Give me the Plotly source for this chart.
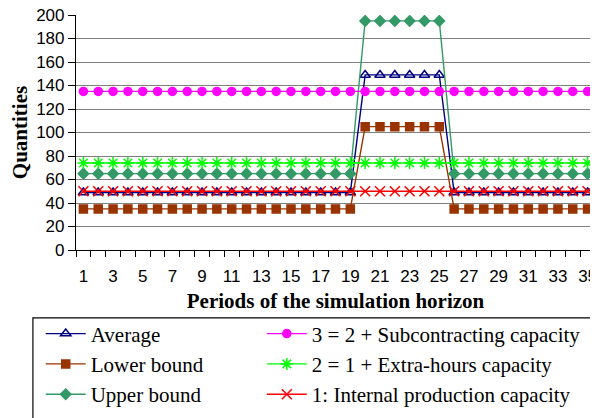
import plotly.graph_objects as go

periods = list(range(1, 36))
average = [49] * 19 + [149] * 6 + [49] * 10
lower_bound = [35] * 19 + [105] * 6 + [35] * 10
upper_bound = [65] * 19 + [195] * 6 + [65] * 10
cap3_subcontracting = [135] * 35
cap2_extra_hours = [74] * 35
cap1_internal = [50] * 35

x_tick_labels = [str(i) for i in range(1, 36, 2)]

SERIF = "Liberation Serif, Times New Roman, serif"
SANS = "Liberation Sans, Arial, sans-serif"

series = [
    ("Average", average, "#000080", "triangle-up-open", 9, "legend"),
    ("Lower bound", lower_bound, "#993300", "square", 8, "legend"),
    ("Upper bound", upper_bound, "#339966", "diamond", 8, "legend"),
    ("3 = 2 + Subcontracting capacity", cap3_subcontracting, "#FF00FF", "circle", 8, "legend2"),
    ("2 = 1 + Extra-hours capacity", cap2_extra_hours, "#00FF00", "asterisk-open", 10, "legend2"),
    ("1: Internal production capacity", cap1_internal, "#FF0000", "x-thin-open", 10, "legend2"),
]

fig = go.Figure()
for i, (name, vals, color, sym, size, leg) in enumerate(series):
    fig.add_trace(go.Scatter(
        x=periods, y=vals, name=name, mode="lines+markers",
        legend=leg, legendgroup=f"g{i}",
        line=dict(color=color, width=1.4),
        marker=dict(symbol=sym, size=size, color=color,
                    line=dict(color=color, width=1.5)),
    ))

leg_common = dict(
    orientation="v", xanchor="left", yanchor="top", y=-0.27,
    borderwidth=0, bgcolor="rgba(0,0,0,0)",
    font=dict(family=SERIF, size=21, color="black"),
    itemwidth=40, tracegroupgap=1, traceorder="normal",
)

# page body has an 8px default margin, so the figure is sized 8px smaller
fig.update_layout(
    width=590, height=410,
    margin=dict(l=68, r=3, t=7, b=168),
    paper_bgcolor="white", plot_bgcolor="white",
    font=dict(family=SANS, size=17, color="black"),
    showlegend=True,
    legend=dict(x=-0.068, **leg_common),
    legend2=dict(x=0.358, **leg_common),
    xaxis=dict(
        range=[0.5, 35.5], tickmode="array",
        tickvals=list(range(1, 36, 2)), ticktext=x_tick_labels,
        ticks="", showgrid=False, zeroline=False, automargin=False,
        showline=True, linecolor="black", linewidth=1.2,
        tickfont=dict(family=SANS, size=17), ticklabelstandoff=10,
        ticklabeloverflow="allow",
        minor=dict(tickmode="array", tickvals=[i + 0.5 for i in range(0, 36)],
                   ticks="outside", ticklen=6, tickcolor="black", showgrid=False),
        title=dict(text="<b>Periods of the simulation horizon</b>",
                   font=dict(family=SERIF, size=21), standoff=8),
    ),
    yaxis=dict(
        range=[0, 200], dtick=20, ticks="outside", ticklen=7, tickcolor="black",
        showgrid=True, gridcolor="#808080", gridwidth=1.2, zeroline=False,
        showline=True, linecolor="black", linewidth=1.2, automargin=False,
        tickfont=dict(family=SANS, size=17), ticklabeloverflow="allow",
        title=dict(text="<b>Quantities</b>",
                   font=dict(family=SERIF, size=21), standoff=6),
    ),
)
# right border of plot area
fig.add_shape(type="line", xref="paper", yref="paper", x0=1, x1=1, y0=0, y1=1,
              line=dict(color="#808080", width=1.2))
# legend frame
fig.add_shape(type="rect", xref="paper", yref="paper",
              x0=-0.083, x1=1.0, y0=-0.289, y1=-0.75,
              line=dict(color="black", width=1.2), fillcolor="rgba(0,0,0,0)")

fig.write_html("out.html")
